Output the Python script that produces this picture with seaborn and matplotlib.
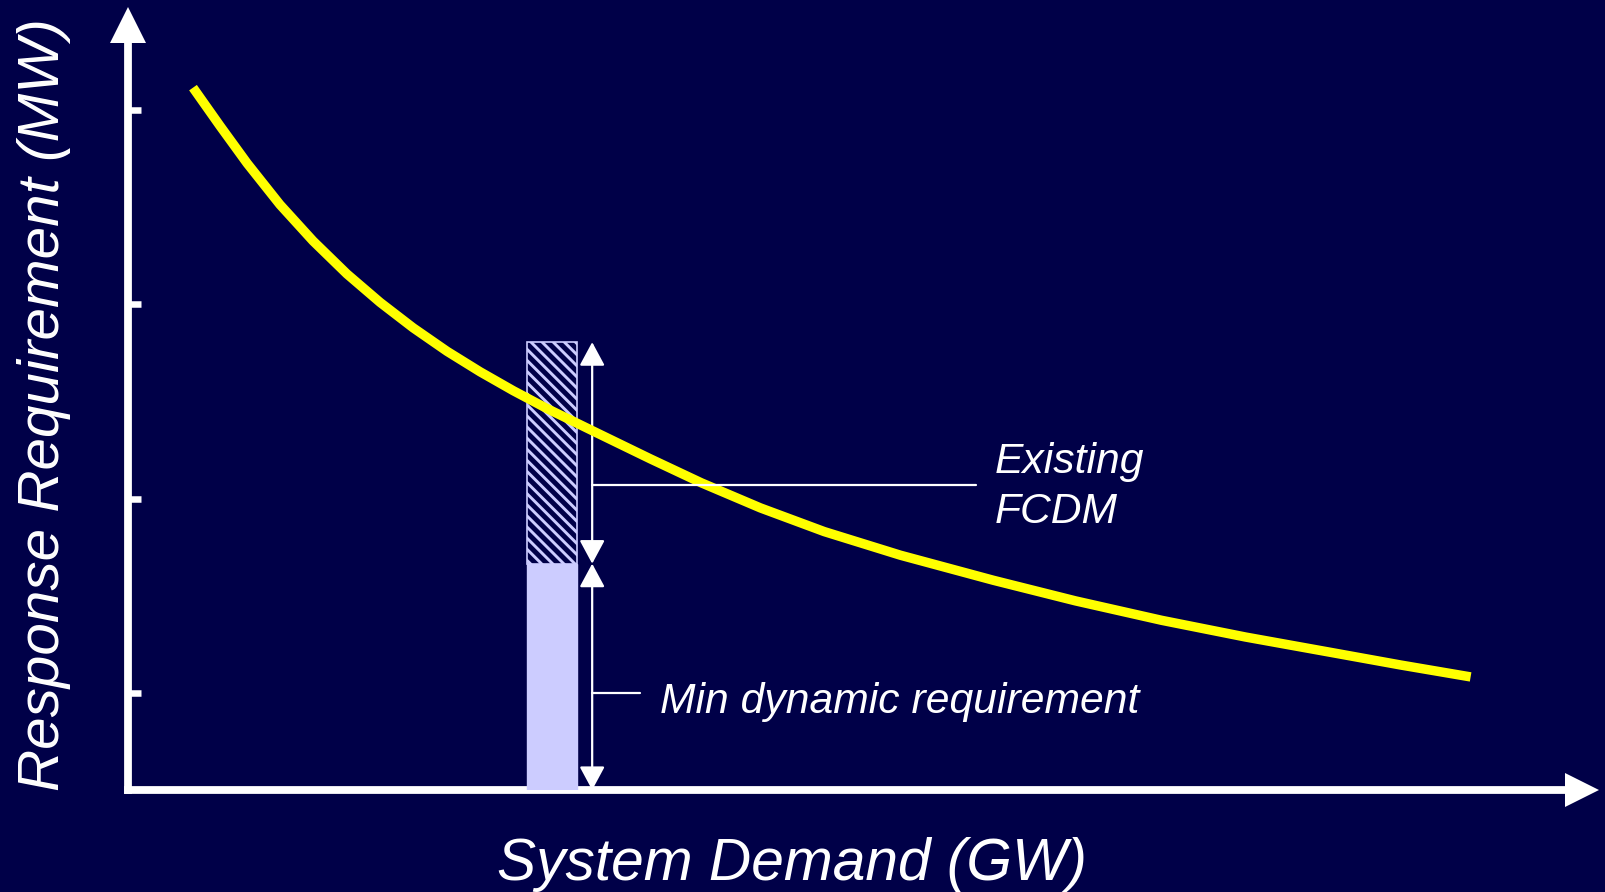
import matplotlib
matplotlib.use("Agg")
import matplotlib.pyplot as plt
import seaborn as sns
import pandas as pd

# curve (x in axis tick units, y in minor-tick units)
demand = [0.228, 0.323, 0.418, 0.533, 0.649, 0.768, 0.884, 1.000, 1.119,
          1.235, 1.351, 1.470, 1.632, 1.832, 2.011, 2.218, 2.442, 2.709,
          3.035, 3.323, 3.625, 3.919, 4.218, 4.463, 4.709]
requirement = [7.230, 6.835, 6.451, 6.026, 5.652, 5.312, 5.020, 4.758, 4.516,
               4.305, 4.111, 3.926, 3.694, 3.409, 3.162, 2.904, 2.660, 2.417,
               2.159, 1.947, 1.747, 1.575, 1.417, 1.287, 1.164]

x_ticks = [1, 2, 3, 4, 5]
y_major = [2, 4, 6]
y_minor = [1, 3, 5, 7]

bar_x = 1.488
bar_width = 0.175
min_dynamic = 2.33
fcdm_top = 4.61

arrow_x = 1.628
fcdm_line_y = 3.14
fcdm_line_end = 2.975
min_line_y = 1.0
min_line_end = 1.796

BG = "#000048"
LAV = "#ccccff"
WHITE = "#ffffff"

sns.set_theme(style="white", rc={
    "figure.facecolor": BG, "axes.facecolor": BG, "savefig.facecolor": BG,
    "hatch.color": LAV, "hatch.linewidth": 2.1,
})
plt.rcParams["font.family"] = ["Liberation Sans", "DejaVu Sans"]

W, H = 1606, 892
fig = plt.figure(figsize=(W / 100, H / 100), dpi=100)
ax = fig.add_axes([128 / W, (H - 790) / H, (1565 - 128) / W, (790 - 42) / H])
ax.set_xlim(0, 5.04)
ax.set_ylim(0, 7.70)

for side in ["top", "right"]:
    ax.spines[side].set_visible(False)
for side in ["left", "bottom"]:
    ax.spines[side].set_color(WHITE)
    ax.spines[side].set_linewidth(5.6)
    ax.spines[side].set_zorder(1)

ax.set_xticks(x_ticks)
ax.set_yticks(y_major)
ax.set_yticks(y_minor, minor=True)
ax.set_xticklabels([])
ax.set_yticklabels([])
ax.set_yticklabels([], minor=True)
ax.tick_params(axis="x", which="major", direction="in", length=10.8, width=4.8, color=WHITE)
ax.tick_params(axis="y", which="major", direction="in", length=15.8, width=4.7, color=WHITE)
ax.tick_params(axis="y", which="minor", direction="in", length=9.4, width=4.7, color=WHITE, left=True)

# axis arrow heads
ax.plot([5.10], [0], marker=">", markersize=25, color=WHITE, mew=0, clip_on=False)
ax.plot([0], [7.88], marker="^", markersize=26, color=WHITE, mew=0, clip_on=False)

# response bar: solid min-dynamic part, hatched FCDM part
ax.bar([bar_x], [min_dynamic], width=bar_width, color=LAV, edgecolor=LAV, linewidth=1, zorder=2)
ax.bar([bar_x], [fcdm_top - min_dynamic], bottom=[min_dynamic], width=bar_width,
       facecolor=BG, edgecolor=LAV, hatch="\\\\\\", linewidth=1.2, zorder=2)

df = pd.DataFrame({"demand": demand, "requirement": requirement})
sns.lineplot(data=df, x="demand", y="requirement", color="#ffff00", linewidth=6.8,
             ax=ax, zorder=4, solid_capstyle="butt", solid_joinstyle="round")
ax.set_xlabel("")
ax.set_ylabel("")

astyle = "<|-|>,head_length=1.45,head_width=0.78"
for y0, y1 in [(fcdm_top, min_dynamic), (min_dynamic, 0)]:
    ax.annotate("", xy=(arrow_x, y1), xytext=(arrow_x, y0),
                arrowprops=dict(arrowstyle=astyle, mutation_scale=10, color=WHITE,
                                lw=1.6, shrinkA=0, shrinkB=0), zorder=3)

ax.plot([arrow_x, fcdm_line_end], [fcdm_line_y, fcdm_line_y], color=WHITE, lw=1.6, zorder=5)
ax.plot([arrow_x, min_line_end], [min_line_y, min_line_y], color=WHITE, lw=1.6, zorder=5)

tstyle = dict(color=WHITE, fontsize=30.7, style="italic", va="baseline", ha="left")
ax.text(3.04, 3.26, "Existing", **tstyle)
ax.text(3.04, 2.75, "FCDM", **tstyle)
ax.text(1.865, 0.79, "Min dynamic requirement", **tstyle)

fig.text(792 / W, 1 - 880 / H, "System Demand (GW)", color=WHITE, fontsize=42.2,
         style="italic", ha="center", va="baseline")
fig.text(59 / W, 1 - 405 / H, "Response Requirement (MW)", color=WHITE, fontsize=42,
         style="italic", ha="center", va="baseline", rotation=90, rotation_mode="anchor")

fig.savefig("out.png", dpi=100, facecolor=BG)
